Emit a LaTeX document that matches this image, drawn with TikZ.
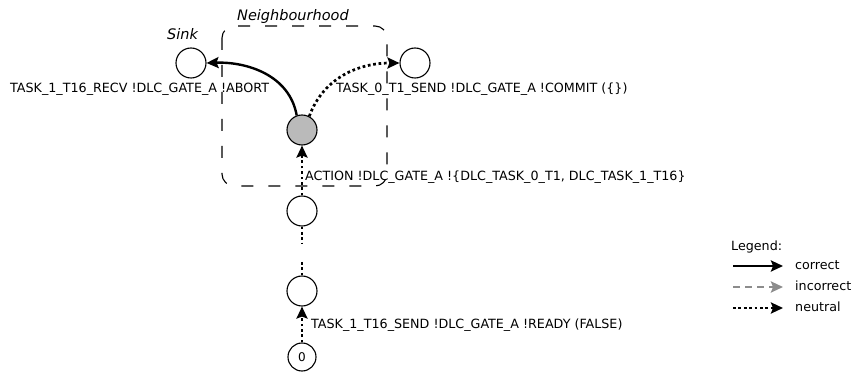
\documentclass[tikz,border=0pt]{standalone}
\usepackage{fontspec}
\setmainfont{DejaVu Sans}
\usetikzlibrary{arrows.meta,positioning}

\begin{document}
\begin{tikzpicture}[x=1pt,y=-1pt,>={Stealth[length=12pt,width=11pt,inset=2pt]},
  state/.style={draw=black,line width=1.1pt,circle,minimum size=30pt,inner sep=0pt,fill=white},
  correct/.style={->,line width=2.4pt},
  neutral/.style={->,line width=2.7pt,dash pattern=on 2.7pt off 2.7pt},
  incorrect/.style={->,line width=2.4pt,draw=black!45,dash pattern=on 7pt off 5pt},
  lbl/.style={anchor=base west,inner sep=0pt,font=\fontsize{12.7}{14}\selectfont},
  ital/.style={lbl,font=\fontsize{14.5}{16}\itshape}]
\useasboundingbox (0,0) rectangle (863,374);
% neighbourhood box
\draw[line width=1.1pt,dash pattern=on 12pt off 15pt,rounded corners=12pt] (222,26) rectangle (387,186);
\node[ital] (nbh) at (237,21) {Neighbourhood};
% states
\node[state] (sink) at (191,63) {};
\node[state] (commit) at (415,63) {};
\node[state,fill=black!27] (cur) at (302,130) {};
\node[state] (s2) at (302,211) {};
\node[state] (s1) at (302,291) {};
\node[state,minimum size=28pt,font=\fontsize{12}{13}\selectfont] (s0) at (302,357) {0};
\node[ital] (sinklbl) at (167,40) {Sink};
% transitions
\draw[correct] (cur.110) to[out=100,in=2] (sink.east);
\draw[neutral] (cur.62) to[out=70,in=180] (commit.west);
\draw[neutral] (s2.north) -- (cur.south);
\coordinate (gapa) at (302,243);
\coordinate (gapb) at (302,262);
\draw[line width=2.7pt,dash pattern=on 2.7pt off 2.7pt] (s2.south) -- (gapa);
\draw[line width=2.7pt,dash pattern=on 2.7pt off 2.7pt] (gapb) -- (s1.north);
\draw[neutral] (s0.north) -- (s1.south);
\node[lbl] (recv) at (10,93) {TASK\_1\_T16\_RECV !DLC\_GATE\_A !ABORT};
\node[lbl] (send) at (336,93) {TASK\_0\_T1\_SEND !DLC\_GATE\_A !COMMIT (\{\})};
\node[lbl] (action) at (305,180.5) {ACTION !DLC\_GATE\_A !\{DLC\_TASK\_0\_T1, DLC\_TASK\_1\_T16\}};
\node[lbl] (ready) at (311,328.5) {TASK\_1\_T16\_SEND !DLC\_GATE\_A !READY (FALSE)};
% legend
\node[lbl] (legend) at (731,251) {Legend:};
\coordinate (la1) at (733,266); \coordinate (lb1) at (783,266);
\coordinate (la2) at (733,287); \coordinate (lb2) at (783,287);
\coordinate (la3) at (733,308); \coordinate (lb3) at (783,308);
\draw[correct] (la1) -- (lb1);
\draw[incorrect] (la2) -- (lb2);
\draw[neutral] (la3) -- (lb3);
\node[lbl] (lcor) at (795,270) {correct};
\node[lbl] (linc) at (795,291) {incorrect};
\node[lbl] (lneu) at (795,312) {neutral};
\end{tikzpicture}
\end{document}
